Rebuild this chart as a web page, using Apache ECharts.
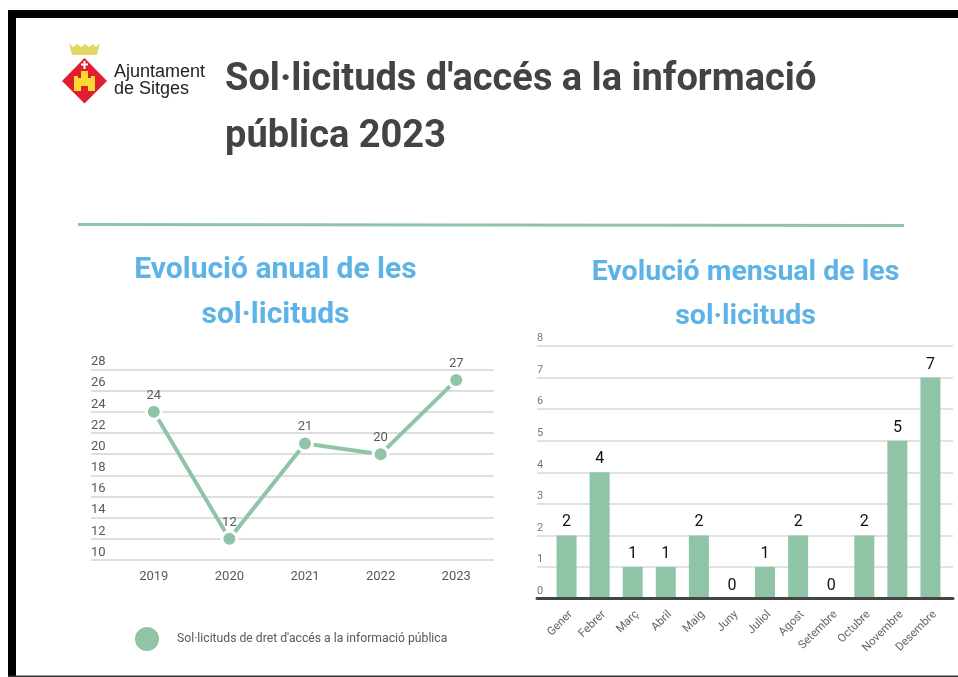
<!DOCTYPE html>
<html>
<head>
<meta charset="utf-8">
<title>Sol·licituds d'accés a la informació pública 2023</title>
<style>
  html, body { margin: 0; padding: 0; background: #fff; }
  #chart { width: 958px; height: 677px; }
</style>
<script src="https://cdn.jsdelivr.net/npm/echarts@6/dist/echarts.min.js"></script>
</head>
<body>
<div id="chart"></div>
<script>
var years = ['2019', '2020', '2021', '2022', '2023'];
var yearValues = [24, 12, 21, 20, 27];
var months = ['Gener', 'Febrer', 'Març', 'Abril', 'Maig', 'Juny', 'Juliol', 'Agost', 'Setembre', 'Octubre', 'Novembre', 'Desembre'];
var monthValues = [2, 4, 1, 1, 2, 0, 1, 2, 0, 2, 5, 7];
var legendName = "Sol·licituds de dret d'accés a la informació pública";

var green = '#8fc4a7';
var font = 'Roboto';
var chart = echarts.init(document.getElementById('chart'));

// the gridlines run wider than the category band, so each chart gets a back grid for the lines
var option = {
  animation: false,
  textStyle: { fontFamily: font },
  title: [
    { text: "Sol·licituds d'accés a la informació\npública 2023", left: 220, top: 47,
      textStyle: { fontFamily: font, fontWeight: 'bold', fontSize: 38, lineHeight: 57, color: '#434343' } },
    { text: 'Evolució anual de les\nsol·licituds', left: 270.5, top: 243, textAlign: 'center',
      textStyle: { fontFamily: font, fontWeight: 'bold', fontSize: 30, lineHeight: 45, color: '#5db3e6' } },
    { text: 'Evolució mensual de les\nsol·licituds', left: 740.5, top: 246, textAlign: 'center',
      textStyle: { fontFamily: font, fontWeight: 'bold', fontSize: 28.5, lineHeight: 44, color: '#5db3e6' } }
  ],
  legend: {
    data: [{ name: legendName, icon: 'circle' }],
    left: 128, top: 620, itemWidth: 26, itemHeight: 26,
    textStyle: { fontFamily: font, fontSize: 12.2, color: '#595959', padding: [0, 0, 0, 12] }
  },
  grid: [
    { left: 91, width: 403, top: 369.5, height: 190.5 },
    { left: 116, width: 378, top: 369.5, height: 190.5 },
    { left: 537, width: 416, top: 346, height: 252.5 },
    { left: 550, width: 397, top: 346, height: 252.5 }
  ],
  xAxis: [
    { gridIndex: 0, type: 'category', data: [], axisLine: { show: false }, axisTick: { show: false }, axisLabel: { show: false } },
    { gridIndex: 1, type: 'category', data: years, axisLine: { show: false }, axisTick: { show: false },
      axisLabel: { color: '#595959', fontSize: 13, fontFamily: font, margin: 10 } },
    { gridIndex: 2, type: 'category', data: [], z: 5, axisLine: { show: true, lineStyle: { color: '#444', width: 3 } },
      axisTick: { show: false }, axisLabel: { show: false } },
    { gridIndex: 3, type: 'category', data: months, axisLine: { show: false }, axisTick: { show: false },
      axisLabel: { color: '#666', fontSize: 11.5, fontFamily: font, rotate: 45, margin: 10, interval: 0, verticalAlign: 'top' } }
  ],
  yAxis: [
    { gridIndex: 0, type: 'value', min: 10, max: 28, interval: 2, axisLine: { show: false }, axisTick: { show: false },
      splitLine: { lineStyle: { color: '#dedede', width: 2 } },
      axisLabel: { inside: true, verticalAlign: 'bottom', margin: 0, padding: [0, 0, 1, 0], color: '#595959', fontSize: 13, fontFamily: font } },
    { gridIndex: 1, type: 'value', min: 10, max: 28, show: false },
    { gridIndex: 2, type: 'value', min: 0, max: 8, interval: 1, axisLine: { show: false }, axisTick: { show: false },
      splitLine: { lineStyle: { color: '#e2e2e2', width: 2 } },
      axisLabel: { inside: true, verticalAlign: 'bottom', margin: 0, padding: [0, 0, 2, 0], color: '#777', fontSize: 11, fontFamily: font } },
    { gridIndex: 3, type: 'value', min: 0, max: 8, show: false }
  ],
  series: [
    {
      name: legendName, type: 'line', xAxisIndex: 1, yAxisIndex: 1, data: yearValues,
      symbol: 'circle', symbolSize: 15,
      lineStyle: { color: green, width: 4 },
      itemStyle: { color: green, borderColor: '#fff', borderWidth: 3 },
      label: { show: true, position: 'top', distance: 1, color: '#595959', fontSize: 13, fontFamily: font }
    },
    {
      name: 'mensual', type: 'bar', xAxisIndex: 3, yAxisIndex: 3, data: monthValues,
      barWidth: 20, itemStyle: { color: green },
      label: { show: true, position: 'top', distance: 5, color: '#111', fontSize: 16, fontFamily: font }
    }
  ],
  graphic: [
    // page frame
    { type: 'rect', shape: { x: 8, y: 10, width: 950, height: 8 }, style: { fill: '#000' } },
    { type: 'rect', shape: { x: 8, y: 10, width: 8, height: 667 }, style: { fill: '#000' } },
    { type: 'rect', shape: { x: 8, y: 675.5, width: 950, height: 1.5 }, style: { fill: '#333' } },
    // rule under the heading
    { type: 'line', shape: { x1: 78, y1: 224.5, x2: 904, y2: 225.5 }, style: { stroke: green, lineWidth: 3 } },
    // logo
    { type: 'polygon', shape: { points: [[69, 43], [73, 47], [77, 44], [81, 47], [85, 44], [89, 47], [93, 44], [96, 47], [100, 43], [97, 55], [72, 55]] }, style: { fill: '#e3d768' } },
    { type: 'polygon', shape: { points: [[84.5, 58], [107, 81], [84.5, 103.5], [62, 81]] }, style: { fill: '#df1f2d' } },
    { type: 'polygon', shape: { points: [[74, 76], [78, 76], [78, 78], [81, 78], [81, 71], [88, 71], [88, 78], [91, 78], [91, 76], [95, 76], [95, 91], [88, 91], [88, 86], [81, 86], [81, 91], [74, 91]] }, style: { fill: '#fdd835' } },
    { type: 'rect', shape: { x: 83.5, y: 61, width: 2, height: 8 }, style: { fill: '#fff' } },
    { type: 'rect', shape: { x: 81, y: 63.5, width: 7, height: 2 }, style: { fill: '#fff' } },
    { type: 'text', x: 114, y: 63, style: { text: 'Ajuntament', fontFamily: 'Liberation Sans', fontSize: 18, fill: '#222' } },
    { type: 'text', x: 114, y: 80, style: { text: 'de Sitges', fontFamily: 'Liberation Sans', fontSize: 18, fill: '#222' } }
  ]
};
chart.setOption(option);
</script>
</body>
</html>
